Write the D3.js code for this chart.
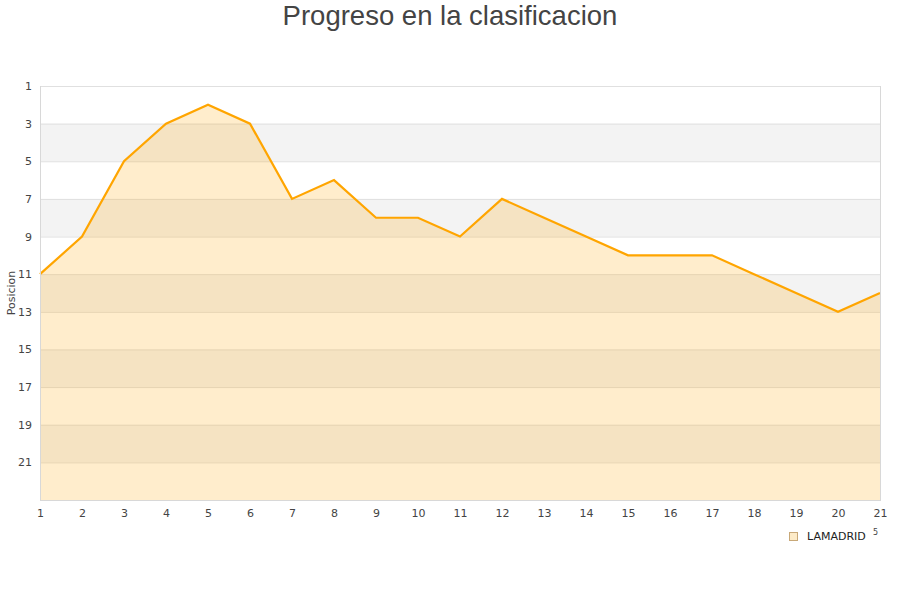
<!DOCTYPE html>
<html><head><meta charset="utf-8">
<script src="https://cdn.jsdelivr.net/npm/d3@7"></script>
<style>body{margin:0;background:#fff}</style>
</head><body>
<svg id="c" width="900" height="600"></svg>
<script>
const title = "Progreso en la clasificacion";
const yLabel = "Posicion";
const seriesName = "LAMADRID";
const jornadas = [1,2,3,4,5,6,7,8,9,10,11,12,13,14,15,16,17,18,19,20,21];
const posiciones = [11,9,5,3,2,3,7,6,8,8,9,7,8,9,10,10,10,11,12,13,12];
const yTicks = [1,3,5,7,9,11,13,15,17,19,21];
const bands = [[3,5],[7,9],[11,13],[15,17],[19,21]];

const svg = d3.select("#c");
const m = {l:40, r:880, t:86, b:500};
const x = d3.scaleLinear().domain([1,21]).range([m.l, m.r]);
const y = d3.scaleLinear().domain([1,23]).range([m.t, m.b]);

svg.append("text").attr("x",450).attr("y",25).attr("text-anchor","middle")
  .attr("font-family","Liberation Sans, Arial, sans-serif").attr("font-size",27.5)
  .attr("fill","#444").text(title);

// bands
svg.append("g").selectAll("rect").data(bands).join("rect")
  .attr("x",m.l).attr("width",m.r-m.l)
  .attr("y",d=>y(d[0])).attr("height",d=>y(d[1])-y(d[0]))
  .attr("fill","#f3f3f3");

// grid
svg.append("g").selectAll("line").data(yTicks).join("line")
  .attr("x1",m.l).attr("x2",m.r).attr("y1",d=>y(d)+0.5).attr("y2",d=>y(d)+0.5)
  .attr("stroke","#e0e0e0").attr("stroke-width",1);

// area
const area = d3.area().x((d,i)=>x(jornadas[i])).y0(y(23)).y1(d=>y(d));
svg.append("path").datum(posiciones).attr("d",area)
  .attr("fill","rgba(255,165,0,0.2)");
const line = d3.line().x((d,i)=>x(jornadas[i])).y(d=>y(d));
svg.append("path").datum(posiciones).attr("d",line)
  .attr("fill","none").attr("stroke","#ffa500").attr("stroke-width",2.2);

// frame
svg.append("line").attr("x1",m.l+0.5).attr("x2",m.l+0.5).attr("y1",m.t).attr("y2",m.b)
  .attr("stroke","#d8d8d8");
svg.append("line").attr("x1",m.r+0.5).attr("x2",m.r+0.5).attr("y1",m.t).attr("y2",m.b)
  .attr("stroke","#d8d8d8");
svg.append("line").attr("x1",m.l).attr("x2",m.r+1).attr("y1",m.b+0.5).attr("y2",m.b+0.5)
  .attr("stroke","#d8d8d8");

// y axis
const yAxis = d3.axisLeft(y).tickValues(yTicks).tickSize(0).tickPadding(8);
const gy = svg.append("g").attr("transform",`translate(${m.l},0)`).call(yAxis);
gy.select(".domain").remove();
gy.selectAll("text").attr("font-family","DejaVu Sans, sans-serif").attr("font-size",11).attr("fill","#444");

// x axis
const xAxis = d3.axisBottom(x).tickValues(jornadas).tickSize(0).tickPadding(9).tickFormat(d3.format("d"));
const gx = svg.append("g").attr("transform",`translate(0,${m.b})`).call(xAxis);
gx.select(".domain").remove();
gx.selectAll("text").attr("font-family","DejaVu Sans, sans-serif").attr("font-size",11).attr("fill","#444");

svg.append("text").attr("transform","translate(15,293) rotate(-90)").attr("text-anchor","middle")
  .attr("font-family","DejaVu Sans, sans-serif").attr("font-size",11).attr("fill","#444").text(yLabel);

// legend
svg.append("rect").attr("x",789.5).attr("y",532.5).attr("width",8).attr("height",8)
  .attr("fill","#fdebc8").attr("stroke","#c8a878").attr("stroke-width",1);
svg.append("text").attr("x",807).attr("y",540).attr("font-family","DejaVu Sans, sans-serif")
  .attr("font-size",11).attr("fill","#222").text(seriesName);
svg.append("text").attr("x",873).attr("y",535).attr("font-family","DejaVu Sans, sans-serif")
  .attr("font-size",8).attr("fill","#444").text("5");
</script>
</body></html>
